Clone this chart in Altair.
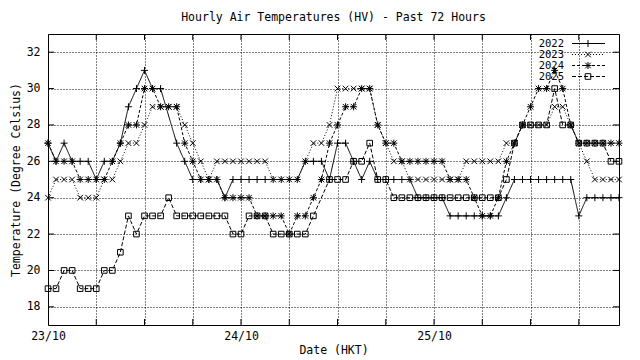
import altair as alt
import pandas as pd

# ---------------- data ----------------
# None = no reading for that hour (the line joins its neighbours)
SERIES = ["2022", "2023", "2024", "2025"]
HOURS = list(range(72))  # hourly readings starting 23/10 00:00

T2022 = [27, 26, 27, 26, 26, 26, 25, 26, 26, 27, 29, 30, 31, 30, 30,
         None, 27, 26, 25, 25, 25, 25, 24, 25, 25, 25, 25, 25, 25,
         25, 25, 25, 26, 26, 26, 25, 27, 27, 26, 25, 26, 25, 25, 25,
         25, 25, 24, 24, 24, 24, 23, 23, 23, 23, 23, 23, 23, 24,
         25, 25, 25, 25, 25, 25, 25, 25, 23, 24, 24, 24, 24, 24]
T2023 = [24, 25, 25, 25, 24, 24, 24, 25, 25, 26, 27, 27, 28, 29, 29,
         29, 29, 28, 27, 26, 25, 26, 26, 26, 26, 26, 26, 26, 25,
         25, 25, 25, 26, 27, 27, 28, 30, 30, 30, 30, 30, 28, 27, 26,
         26, 25, 25, 25, 25, 25, 25, 25, 26, 26, 26, 26, 26, 27,
         27, 28, 28, 28, 28, 29, 29, 28, 27, 26, 25, 25, 25, 25]
T2024 = [27, 26, 26, 26, 25, 25, 25, 25, 26, 27, 28, 28, 30, 30, 29,
         29, 29, 27, 26, 25, 25, 25, 24, 24, 24, 24, 23, 23, 23,
         23, 22, 23, 23, 24, 25, 27, 28, 29, 29, 30, 30, 28, 27, 27,
         26, 26, 26, 26, 26, 26, 25, 25, 25, 24, 23, 23, 24, 26,
         27, 28, 29, 30, 30, 31, 30, 28, 27, 27, 27, 27, 27, 27]
T2025 = [19, 19, 20, 20, 19, 19, 19, 20, 20, 21, 23, 22, 23, 23, 23,
         24, 23, 23, 23, 23, 23, 23, 23, 22, 22, 23, 23, 23, 22,
         22, 22, 22, 22, 23, None, 25, 25, 25, 26, 26, 27, 25, 25, 24,
         24, 24, 24, 24, 24, 24, 24, 24, 24, 24, 24, 24, 24, 25,
         27, 28, 28, 28, 28, 30, 28, 28, 27, 27, 27, 27, 26, 26]

X_TICKS = [0, 6, 12, 18, 24, 30, 36, 42, 48, 54, 60, 66]
DATE_TICKS = [0, 24, 48]
DATE_LABELS = ["23/10", "24/10", "25/10"]
Y_TICKS = [18, 20, 22, 24, 26, 28, 30, 32]

TITLE = "Hourly Air Temperatures (HV) - Past 72 Hours"
X_TITLE = "Date (HKT)"
Y_TITLE = "Temperature (Degree Celsius)"

# ---------------- build table ----------------
rows = []
for s, vals in zip(SERIES, [T2022, T2023, T2024, T2025]):
    for h, v in zip(HOURS, vals):
        if v is not None:
            rows.append({"series": s, "hour": h, "temp": v})
df = pd.DataFrame(rows)

W, H = 571, 291
FONT = "DejaVu Sans Mono"
FS = 11.5

xs = alt.Scale(domain=[0, 71], nice=False, zero=False)
ys = alt.Scale(domain=[17, 33], nice=False, zero=False)

label_expr = " : ".join(
    f"datum.value == {t} ? '{l}'" for t, l in zip(DATE_TICKS, DATE_LABELS)
) + " : ''"

x_axis = alt.Axis(values=X_TICKS, labelExpr=label_expr, grid=True,
                  gridDash=[1, 2], gridColor="black", gridOpacity=1,
                  tickSize=0, domain=False, labelFont=FONT, labelFontSize=FS,
                  labelColor="black", labelPadding=5, labelFlush=False,
                  title=X_TITLE, titleFont=FONT, titleFontSize=FS,
                  titleFontWeight="normal", titleColor="black", titlePadding=3)
y_axis = alt.Axis(values=Y_TICKS, grid=True, gridDash=[1, 2],
                  gridColor="black", gridOpacity=1, tickSize=0, domain=False,
                  labelFont=FONT, labelFontSize=FS, labelColor="black",
                  labelPadding=8, title=Y_TITLE, titleFont=FONT,
                  titleFontSize=FS, titleFontWeight="normal",
                  titleColor="black", titleX=-27, titleY=H / 2)


def X(field):
    return alt.X(field, scale=xs, axis=x_axis)


def Y(field):
    return alt.Y(field, scale=ys, axis=y_axis)


SHAPES = {
    "2022": "M-1,0L1,0M0,-1L0,1",
    "2023": "M-0.8,-0.8L0.8,0.8M-0.8,0.8L0.8,-0.8",
    "2024": "M-1,0L1,0M0,-1L0,1M-0.8,-0.8L0.8,0.8M-0.8,0.8L0.8,-0.8",
    "2025": "M-0.8,-0.8L0.8,-0.8L0.8,0.8L-0.8,0.8Z",
}
DASH = {"2022": [1, 0], "2023": [1, 2], "2024": [3, 2], "2025": [4, 2]}
MSIZE = 49

layers = []

# inward ticks
xt = pd.DataFrame({"hour": X_TICKS[1:]})
yt = pd.DataFrame({"temp": Y_TICKS})
TL = 6
layers.append(alt.Chart(xt).mark_rule(color="black", strokeWidth=1).encode(
    x=X("hour:Q"), y=alt.value(H), y2=alt.value(H - TL)))
layers.append(alt.Chart(xt).mark_rule(color="black", strokeWidth=1).encode(
    x=X("hour:Q"), y=alt.value(0), y2=alt.value(TL)))
layers.append(alt.Chart(yt).mark_rule(color="black", strokeWidth=1).encode(
    y=Y("temp:Q"), x=alt.value(0), x2=alt.value(TL)))
layers.append(alt.Chart(yt).mark_rule(color="black", strokeWidth=1).encode(
    y=Y("temp:Q"), x=alt.value(W - TL), x2=alt.value(W)))

for s in SERIES:
    sub = alt.Chart(df).transform_filter(alt.datum.series == s)
    layers.append(sub.mark_line(color="black", strokeWidth=1,
                                strokeDash=DASH[s]).encode(
        x=X("hour:Q"), y=Y("temp:Q")))
    layers.append(sub.mark_point(shape=SHAPES[s], filled=False, color="black",
                                 strokeWidth=1, size=MSIZE, opacity=1).encode(
        x=X("hour:Q"), y=Y("temp:Q")))

# legend (gnuplot style: label, then line sample with marker)
LFS = 10.5
leg = pd.DataFrame({"series": SERIES})
for i, s in enumerate(SERIES):
    yy = 9.5 + i * 11
    one = alt.Chart(leg).transform_filter(alt.datum.series == s)
    layers.append(one.mark_text(align="right", baseline="middle", font=FONT,
                                fontSize=LFS, color="black").encode(
        text="series:N", x=alt.value(516), y=alt.value(yy)))
    layers.append(one.mark_rule(color="black", strokeWidth=1,
                                strokeDash=DASH[s]).encode(
        x=alt.value(524), x2=alt.value(557), y=alt.value(yy)))
    layers.append(one.mark_point(shape=SHAPES[s], filled=False, color="black",
                                 strokeWidth=1, size=MSIZE, opacity=1).encode(
        x=alt.value(540), y=alt.value(yy)))

chart = alt.layer(*layers).properties(
    width=W, height=H, background="white",
    title=alt.TitleParams(TITLE, font=FONT, fontSize=FS, fontWeight="normal",
                          color="black", anchor="middle", offset=10),
    autosize=alt.AutoSizeParams(type="none"),
    padding={"left": 40, "top": 26, "right": 10, "bottom": 34},
).configure_view(stroke="black", strokeWidth=1)

chart.save("out.html", embed_options={"renderer": "svg", "actions": False})
